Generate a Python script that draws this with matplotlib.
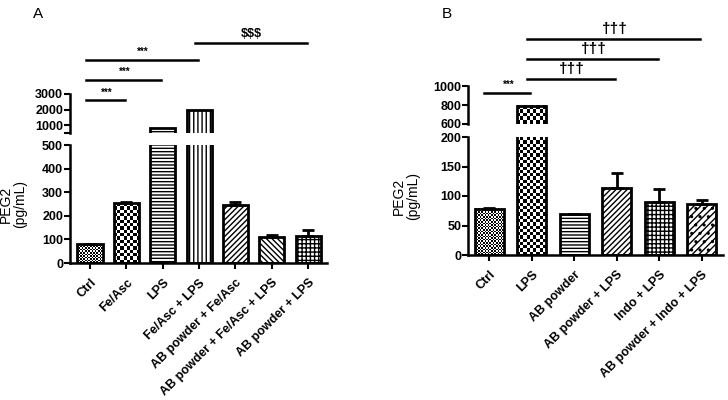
import numpy as np
import matplotlib
matplotlib.use('Agg')
import matplotlib.pyplot as plt

plt.rcParams['font.family'] = ['Liberation Sans', 'DejaVu Sans']
plt.rcParams['hatch.linewidth'] = 1.0

# panel A
a_labels = ['Ctrl', 'Fe/Asc', 'LPS', 'Fe/Asc + LPS', 'AB powder + Fe/Asc',
            'AB powder + Fe/Asc + LPS', 'AB powder + LPS']
a_vals = [80, 253, 800, 2000, 246, 112, 116]
a_err = [2, 4, 0, 0, 14, 8, 24]
a_hatch = ['fine', 'check', '-----', '||||', '//////', '\\\\\\\\\\\\', '++++']
a_pairs = [(0, 1), (0, 2), (0, 3), (3, 6)]
a_sig_y = [2600, 3900, 5200, 6300]
a_sig_txt = ['***', '***', '***', '$$$']

# panel B
b_labels = ['Ctrl', 'LPS', 'AB powder', 'AB powder + LPS', 'Indo + LPS',
            'AB powder + Indo + LPS']
b_vals = [78, 790, 70, 113, 90, 86]
b_err = [2, 0, 0, 26, 22, 7]
b_hatch = ['fine', 'check', '-----', '//////', '++++', '/////..']
b_pairs = [(0, 1), (1, 3), (1, 4), (1, 5)]
b_sig_y = [926, 1074, 1284, 1495]
b_sig_txt = ['***', '\u2020\u2020\u2020', '\u2020\u2020\u2020', '\u2020\u2020\u2020']

sig_fs = {'***': 7, '$$$': 9, '\u2020\u2020\u2020': 11}

fig = plt.figure(figsize=(7.28, 4.0), dpi=100)


def checker(ax, bar, cell_px, ylim):
    # checkerboard fill, clipped to visible part of bar
    x0, w = bar.get_x(), bar.get_width()
    y0 = max(bar.get_y(), ylim[0])
    y1 = min(bar.get_y() + bar.get_height(), ylim[1])
    if y1 <= y0:
        return
    p0 = ax.transData.transform((x0, y0))
    p1 = ax.transData.transform((x0 + w, y1))
    nc = max(1, int(round((p1[0] - p0[0]) / cell_px)))
    nr = max(1, int(round((p1[1] - p0[1]) / cell_px)))
    grid = (np.indices((nr, nc)).sum(axis=0) % 2).astype(float)
    ax.imshow(grid, cmap='gray', extent=(x0, x0 + w, y0, y1), aspect='auto',
              interpolation='nearest', vmin=0, vmax=1, zorder=1.5, origin='lower')


def panel(low_rect, up_rect, labels, vals, errs, hatches, low_lim, low_ticks,
          up_lim, up_ticks, up_minor, xlim, width, pairs, sig_y, sig_txt,
          lab_x, letter, letter_pos):
    x = np.arange(len(vals))
    low = fig.add_axes(low_rect)
    up = fig.add_axes(up_rect)
    for ax, lim in ((low, low_lim), (up, up_lim)):
        ax.set_xlim(xlim)
        ax.set_ylim(lim)
        bars = ax.bar(x, vals, width=width, color='white', edgecolor='black',
                      linewidth=2, zorder=2)
        for b, h in zip(bars, hatches):
            if h == 'check':
                b.set_facecolor('none')
                checker(ax, b, 3.3, lim)
            elif h == 'fine':
                b.set_facecolor('none')
                checker(ax, b, 1.6, lim)
            else:
                b.set_hatch(h)
        ax.set_xlim(xlim)
        ax.set_ylim(lim)
        ax.spines['top'].set_visible(False)
        ax.spines['right'].set_visible(False)
        ax.spines['left'].set_linewidth(1.8)
        ax.spines['bottom'].set_linewidth(1.8)
        ax.tick_params(axis='y', length=4, width=1.5, labelsize=9, pad=1)
    low.errorbar(x, vals, yerr=[np.zeros(len(errs)), errs], fmt='none',
                 ecolor='black', elinewidth=2, capsize=4, capthick=2, zorder=3)
    low.set_yticks(low_ticks)
    up.set_yticks(up_ticks)
    if up_minor:
        up.set_yticks(up_minor, minor=True)
        up.tick_params(axis='y', which='minor', length=4, width=1.5)
    up.spines['bottom'].set_visible(False)
    up.set_xticks([])
    low.set_xticks(x)
    low.set_xticklabels(labels, rotation=45, ha='right', rotation_mode='anchor',
                        fontsize=9, fontweight='bold')
    low.tick_params(axis='x', length=4, width=1.5, pad=6)
    for t in low.get_yticklabels() + up.get_yticklabels():
        t.set_fontweight('bold')
    low.set_ylabel('PEG2\n(pg/mL)', fontsize=10, linespacing=1.0)
    low.yaxis.set_label_coords(lab_x, 0.5)
    for (i, j), y, s in zip(pairs, sig_y, sig_txt):
        up.plot([i - 0.12, j - 0.04], [y, y], color='black', lw=1.8,
                clip_on=False)
        up.annotate(s, xy=((i + j) / 2 - 0.05, y), xytext=(0, 2),
                    textcoords='offset points', ha='center', va='bottom',
                    fontsize=sig_fs[s], fontweight='bold', annotation_clip=False)
    fig.text(letter_pos[0], letter_pos[1], letter, fontsize=11)


panel([0.0962, 0.3425, 0.353, 0.295], [0.0962, 0.6675, 0.353, 0.0975],
      a_labels, a_vals, a_err, a_hatch, (0, 500), [0, 100, 200, 300, 400, 500],
      (500, 3000), [1000, 2000, 3000], [500], (-0.55, 6.52), 0.69,
      a_pairs, a_sig_y, a_sig_txt, -0.167, 'A', (0.045, 0.955))

panel([0.643, 0.3625, 0.350, 0.295], [0.643, 0.69, 0.350, 0.095],
      b_labels, b_vals, b_err, b_hatch, (0, 200), [0, 50, 100, 150, 200],
      (600, 1000), [600, 800, 1000], None, (-0.5, 5.5), 0.68,
      b_pairs, b_sig_y, b_sig_txt, -0.19, 'B', (0.607, 0.955))

fig.savefig('out.png', dpi=100)
